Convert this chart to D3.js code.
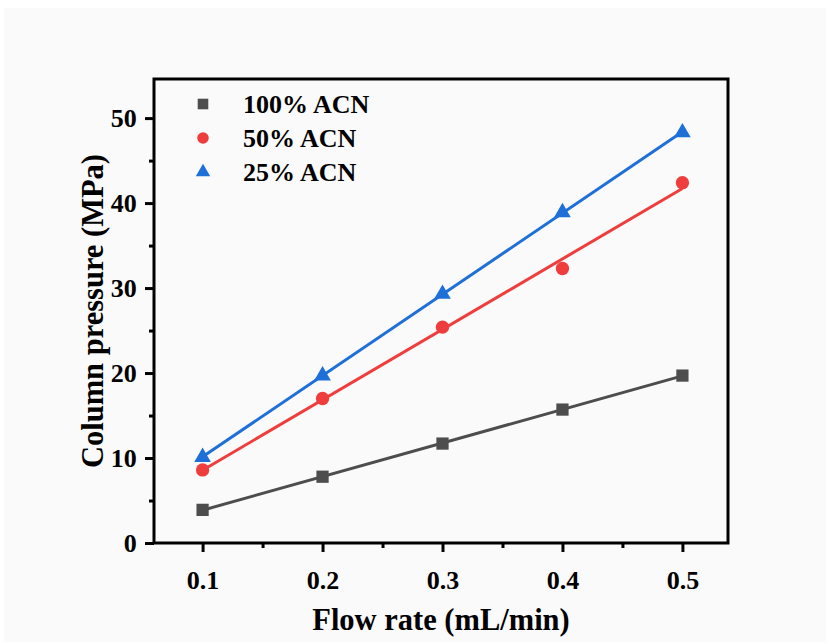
<!DOCTYPE html>
<html>
<head>
<meta charset="utf-8">
<script src="https://cdn.jsdelivr.net/npm/d3@7"></script>
<style>
  body { margin: 0; background: #ffffff; }
  text { font-family: "Liberation Serif", "Times New Roman", serif; font-weight: bold; fill: #000; }
</style>
</head>
<body>
<div id="plot"></div>
<script>
// data
var flowRates = [0.1, 0.2, 0.3, 0.4, 0.5];
var acn100 = [3.9, 7.8, 11.7, 15.7, 19.7];
var acn50 = [8.6, 17.0, 25.4, 32.3, 42.4];
var acn25 = [10.1, 19.7, 29.3, 38.9, 48.3];
var seriesNames = ["100% ACN", "50% ACN", "25% ACN"];
var xTicks = [0.1, 0.2, 0.3, 0.4, 0.5];
var yTicks = [0, 10, 20, 30, 40, 50];

var width = 830, height = 644;
var plotL = 154, plotR = 728, plotT = 79, plotB = 543;

var svg = d3.select("#plot").append("svg")
  .attr("width", width).attr("height", height);

svg.append("rect").attr("x", 4).attr("y", 8)
  .attr("width", width - 8).attr("height", height - 10)
  .attr("fill", "#fafafa");

var x = d3.scaleLinear().domain([0.0595, 0.538]).range([plotL, plotR]);
var y = d3.scaleLinear().domain([0, 54.6]).range([plotB, plotT]);

var series = [
  { name: seriesNames[0], values: acn100, color: "#4d4d4d", shape: d3.symbolSquare, size: 150 },
  { name: seriesNames[1], values: acn50, color: "#ef3d3d", shape: d3.symbolCircle, size: 140 },
  { name: seriesNames[2], values: acn25, color: "#1f6fd8", shape: d3.symbolTriangle, size: 120 }
];

// linear fit for each series
function fit(xs, ys) {
  var mx = d3.mean(xs), my = d3.mean(ys);
  var sxy = d3.sum(xs, function(v, i){ return (v - mx) * (ys[i] - my); });
  var sxx = d3.sum(xs, function(v){ return (v - mx) * (v - mx); });
  var b = sxy / sxx;
  return { b: b, a: my - b * mx };
}

// axes
var xAxis = svg.append("g").attr("transform", "translate(0," + plotB + ")")
  .call(d3.axisBottom(x).tickValues(xTicks).tickSize(9).tickFormat(d3.format(".1f")));
var xMinor = svg.append("g").attr("transform", "translate(0," + plotB + ")")
  .call(d3.axisBottom(x).tickValues([0.15, 0.25, 0.35, 0.45]).tickSize(5).tickFormat(""));
var yAxis = svg.append("g").attr("transform", "translate(" + plotL + ",0)")
  .call(d3.axisLeft(y).tickValues(yTicks).tickSize(9));
var yMinor = svg.append("g").attr("transform", "translate(" + plotL + ",0)")
  .call(d3.axisLeft(y).tickValues([5, 15, 25, 35, 45]).tickSize(5).tickFormat(""));

[xAxis, xMinor, yAxis, yMinor].forEach(function(a){
  a.select(".domain").remove();
  a.selectAll("line").attr("stroke", "#000").attr("stroke-width", 3);
});
xAxis.selectAll("text").attr("font-size", "26px").attr("dy", "1.3em");
yAxis.selectAll("text").attr("font-size", "26px").attr("dx", "-0.2em").attr("dy", "0.34em");

// frame
svg.append("rect")
  .attr("x", plotL).attr("y", plotT)
  .attr("width", plotR - plotL).attr("height", plotB - plotT)
  .attr("fill", "none").attr("stroke", "#000").attr("stroke-width", 3);

// fit lines and points
series.forEach(function(s){
  var f = fit(flowRates, s.values);
  var x0 = flowRates[0], x1 = flowRates[flowRates.length - 1];
  svg.append("line")
    .attr("x1", x(x0)).attr("y1", y(f.a + f.b * x0))
    .attr("x2", x(x1)).attr("y2", y(f.a + f.b * x1))
    .attr("stroke", s.color).attr("stroke-width", 3);

  svg.selectAll(null).data(s.values).enter().append("path")
    .attr("d", d3.symbol().type(s.shape).size(s.size))
    .attr("transform", function(d, i){ return "translate(" + x(flowRates[i]) + "," + y(d) + ")"; })
    .attr("fill", s.color);
});

// legend
var legend = svg.append("g").attr("transform", "translate(203,104)");
series.forEach(function(s, i){
  legend.append("path")
    .attr("d", d3.symbol().type(s.shape).size(s.size * 0.75))
    .attr("transform", "translate(0," + (i * 34) + ")")
    .attr("fill", s.color);
  legend.append("text")
    .attr("x", 40).attr("y", i * 34 + 9)
    .attr("font-size", "26px")
    .text(s.name);
});

// axis titles
svg.append("text")
  .attr("x", (plotL + plotR) / 2).attr("y", 630)
  .attr("text-anchor", "middle")
  .attr("font-size", "30.5px")
  .text("Flow rate (mL/min)");

svg.append("text")
  .attr("transform", "translate(103," + ((plotT + plotB) / 2) + ") rotate(-90)")
  .attr("text-anchor", "middle")
  .attr("font-size", "30.5px")
  .text("Column pressure (MPa)");
</script>
</body>
</html>
